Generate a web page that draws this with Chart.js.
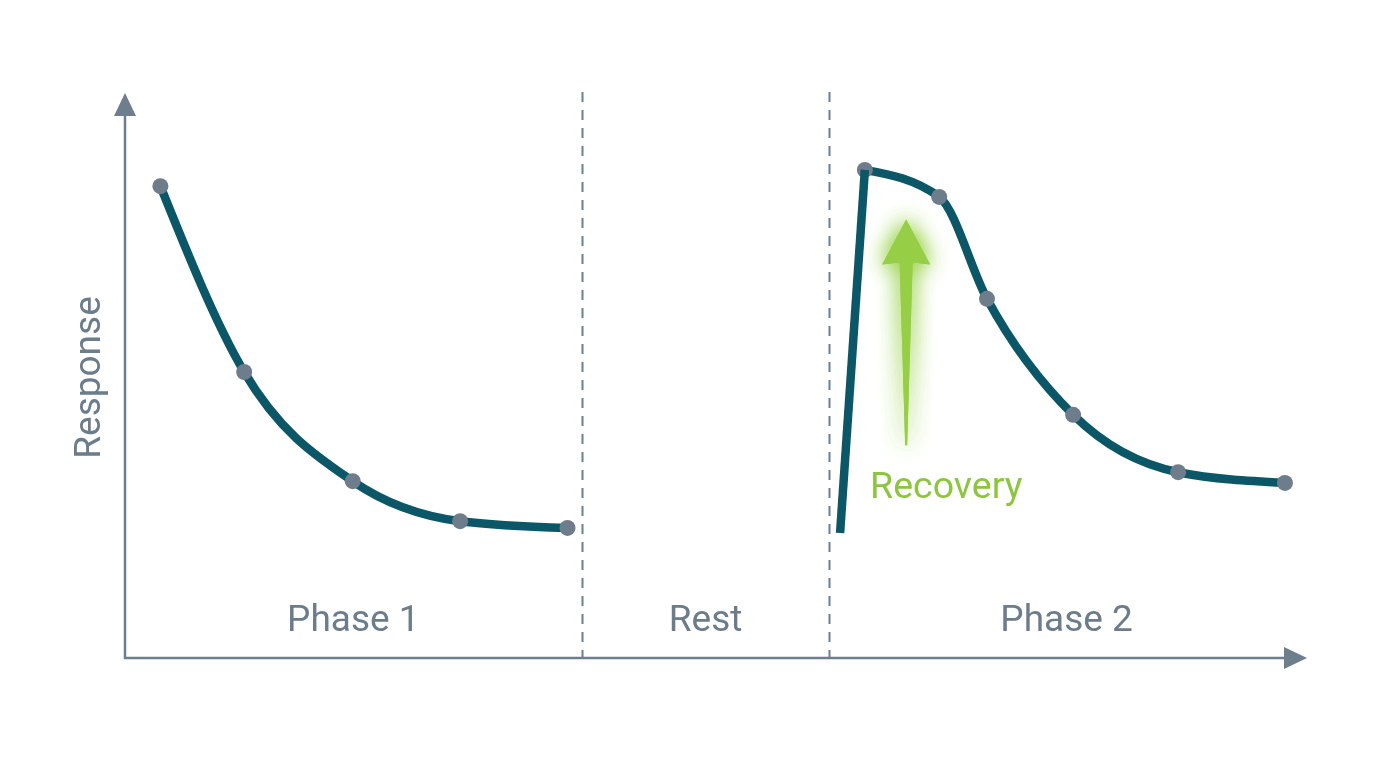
<!DOCTYPE html>
<html>
<head>
<meta charset="utf-8">
<script src="https://cdn.jsdelivr.net/npm/chart.js@4.4.0/dist/chart.umd.min.js"></script>
<style>
html,body{margin:0;padding:0;background:#fff;overflow:hidden;}
canvas{display:block;}
</style>
</head>
<body>
<canvas id="c" width="1376" height="768"></canvas>
<script>
// ---- data ----
const phase1X = [3.0, 10.1, 19.3, 28.4, 37.5];
const phase1Y = [83.8, 50.8, 31.4, 24.3, 23.1];
const riseX = [60.6, 62.7];
const riseY = [22.2, 86.7];
const phase2X = [62.7, 69.0, 73.05, 80.35, 89.25, 98.3];
const phase2Y = [86.7, 81.9, 63.8, 43.2, 33.0, 31.1];
const dividerX = [38.7, 59.65];
const sectionLabels = ["Phase 1", "Rest", "Phase 2"];
const sectionLabelX = [19.35, 49.2, 79.8];
const sectionLabelY = 6.5;
const yAxisTitle = "Response";
const recoveryLabel = "Recovery";
const recoveryArrowX = 66.2;
const recoveryArrowY = [37.8, 77.9];
const recoveryLabelPos = [69.6, 30.1];

const LINE = '#0b5767';
const POINT = '#6d7d8b';
const AXIS = '#6d7e8c';
const TEXT = '#6b7c8a';
const GREEN = '#96cf45';
const GREEN_TEXT = '#8cc63e';

const toPts = (xs, ys) => xs.map((x, i) => ({x, y: ys[i]}));

// Steffen-style monotone tangents (smooth decay-like curves through the points)
function smoothControlPoints(pts) {
  const n = pts.length;
  if (n < 3) return;
  const t = new Array(n).fill(0);
  for (let i = 1; i < n - 1; i++) {
    const h0 = pts[i].x - pts[i - 1].x, h1 = pts[i + 1].x - pts[i].x;
    const s0 = (pts[i].y - pts[i - 1].y) / h0, s1 = (pts[i + 1].y - pts[i].y) / h1;
    const p = (s0 * h1 + s1 * h0) / (h0 + h1);
    t[i] = (Math.sign(s0) + Math.sign(s1)) * Math.min(Math.abs(s0), Math.abs(s1), 0.5 * Math.abs(p)) || 0;
  }
  const sFirst = (pts[1].y - pts[0].y) / (pts[1].x - pts[0].x);
  const sLast = (pts[n - 1].y - pts[n - 2].y) / (pts[n - 1].x - pts[n - 2].x);
  t[0] = (3 * sFirst - t[1]) / 2;
  t[n - 1] = (3 * sLast - t[n - 2]) / 2;
  for (let i = 0; i < n; i++) {
    const pt = pts[i];
    if (i > 0) {
      const dx = (pt.x - pts[i - 1].x) / 3;
      pt.cp1x = pt.x - dx; pt.cp1y = pt.y - dx * t[i];
    } else { pt.cp1x = pt.x; pt.cp1y = pt.y; }
    if (i < n - 1) {
      const dx = (pts[i + 1].x - pt.x) / 3;
      pt.cp2x = pt.x + dx; pt.cp2y = pt.y + dx * t[i];
    } else { pt.cp2x = pt.x; pt.cp2y = pt.y; }
  }
}

const smoother = {
  id: 'smoother',
  beforeDatasetsDraw(chart) {
    chart.data.datasets.forEach((ds, i) => {
      if (!ds.smooth) return;
      const line = chart.getDatasetMeta(i).dataset;
      line.updateControlPoints(chart.chartArea, 'x');
      smoothControlPoints(line.points);
      line._path = undefined;
    });
  }
};

const overlay = {
  id: 'overlay',
  beforeDatasetsDraw(chart) {
    const {ctx, chartArea: a, scales: {x, y}} = chart;
    ctx.save();
    ctx.strokeStyle = AXIS;
    ctx.lineWidth = 2;
    ctx.setLineDash([10, 8]);
    dividerX.forEach(v => {
      const px = Math.round(x.getPixelForValue(v)) + 0.5;
      ctx.beginPath();
      ctx.moveTo(px, a.top - 3);
      ctx.lineTo(px, a.bottom);
      ctx.stroke();
    });
    ctx.setLineDash([]);
    ctx.lineWidth = 2.5;
    ctx.beginPath();
    ctx.moveTo(a.left, a.top + 15);
    ctx.lineTo(a.left, a.bottom);
    ctx.lineTo(a.right - 15, a.bottom);
    ctx.stroke();
    ctx.fillStyle = AXIS;
    ctx.beginPath();
    ctx.moveTo(a.left, a.top - 2);
    ctx.lineTo(a.left - 11, a.top + 21);
    ctx.lineTo(a.left + 11, a.top + 21);
    ctx.closePath();
    ctx.fill();
    ctx.beginPath();
    ctx.moveTo(a.right + 2, a.bottom);
    ctx.lineTo(a.right - 21, a.bottom - 11);
    ctx.lineTo(a.right - 21, a.bottom + 11);
    ctx.closePath();
    ctx.fill();
    ctx.font = '37px Roboto';
    ctx.fillStyle = TEXT;
    ctx.textAlign = 'center';
    ctx.textBaseline = 'middle';
    sectionLabels.forEach((t, i) => {
      ctx.fillText(t, x.getPixelForValue(sectionLabelX[i]), y.getPixelForValue(sectionLabelY));
    });
    ctx.save();
    ctx.translate(91, (a.top + a.bottom) / 2 + 1);
    ctx.rotate(-Math.PI / 2);
    ctx.fillText(yAxisTitle, 0, 0);
    ctx.restore();
    const ax = x.getPixelForValue(recoveryArrowX);
    const y0 = y.getPixelForValue(recoveryArrowY[0]);
    const y1 = y.getPixelForValue(recoveryArrowY[1]);
    ctx.save();
    ctx.shadowColor = 'rgba(150,210,70,0.9)';
    ctx.shadowBlur = 22;
    ctx.fillStyle = GREEN;
    for (let k = 0; k < 2; k++) {
      ctx.beginPath();
      ctx.moveTo(ax - 1, y0);
      ctx.lineTo(ax + 1, y0);
      ctx.lineTo(ax + 6.5, y1 + 43);
      ctx.lineTo(ax + 24, y1 + 45);
      ctx.lineTo(ax, y1);
      ctx.lineTo(ax - 24, y1 + 45);
      ctx.lineTo(ax - 6.5, y1 + 43);
      ctx.closePath();
      ctx.fill();
    }
    ctx.restore();
    ctx.font = '37.5px Roboto';
    ctx.fillStyle = GREEN_TEXT;
    ctx.textAlign = 'center';
    ctx.textBaseline = 'middle';
    ctx.fillText(recoveryLabel, x.getPixelForValue(recoveryLabelPos[0]), y.getPixelForValue(recoveryLabelPos[1]));
    ctx.restore();
  }
};

new Chart(document.getElementById('c'), {
  type: 'line',
  data: {
    datasets: [
      {data: toPts(phase1X, phase1Y), smooth: true, borderColor: LINE, borderWidth: 8.5, tension: 0.4,
       pointRadius: 8, pointBackgroundColor: POINT, pointBorderWidth: 0, clip: false},
      {data: toPts(riseX, riseY), borderColor: LINE, borderWidth: 8.5, tension: 0, pointRadius: 0, clip: false,
       borderCapStyle: 'butt'},
      {data: toPts(phase2X, phase2Y), smooth: true, borderColor: LINE, borderWidth: 8.5, tension: 0.4,
       pointRadius: 8, pointBackgroundColor: POINT, pointBorderWidth: 0, clip: false}
    ]
  },
  options: {
    responsive: false,
    animation: false,
    events: [],
    devicePixelRatio: 1,
    layout: {padding: {left: 125, right: 71, top: 95, bottom: 110}},
    plugins: {legend: {display: false}, tooltip: {enabled: false}},
    scales: {
      x: {type: 'linear', min: 0, max: 100, display: false},
      y: {type: 'linear', min: 0, max: 100, display: false}
    }
  },
  plugins: [smoother, overlay]
});
</script>
</body>
</html>
